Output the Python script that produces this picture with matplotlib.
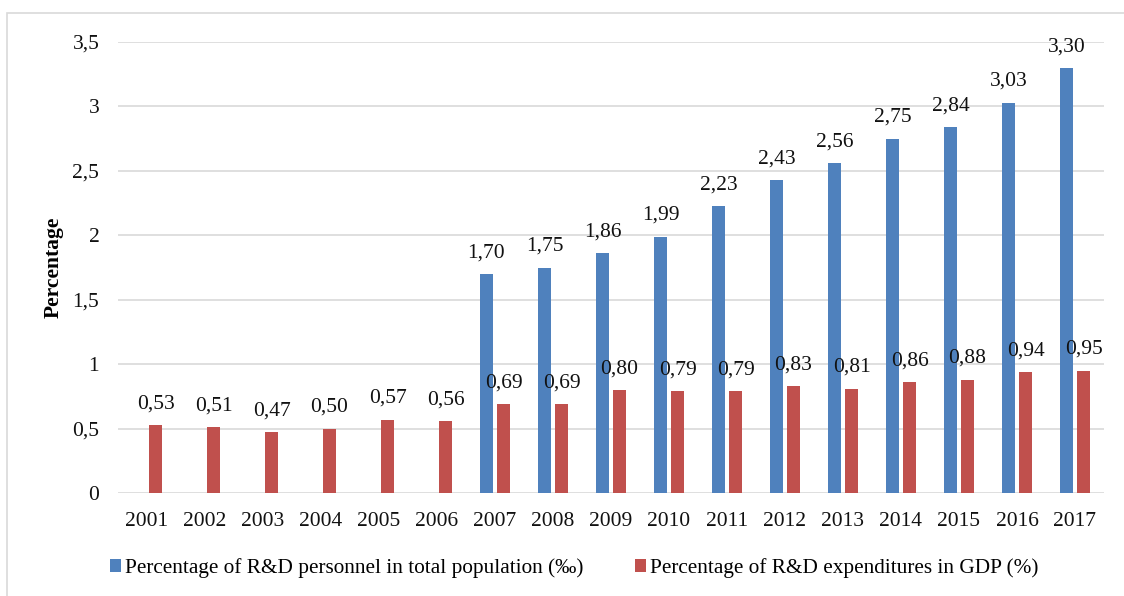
import numpy as np
import matplotlib
matplotlib.use('Agg')
import matplotlib.pyplot as plt
from matplotlib.patches import Rectangle

# Chart data
years = ['2001', '2002', '2003', '2004', '2005', '2006', '2007', '2008', '2009',
         '2010', '2011', '2012', '2013', '2014', '2015', '2016', '2017']
personnel = [None, None, None, None, None, None, 1.70, 1.75, 1.86,
             1.99, 2.23, 2.43, 2.56, 2.75, 2.84, 3.03, 3.30]
expenditures = [0.53, 0.51, 0.47, 0.50, 0.57, 0.56, 0.69, 0.69, 0.80,
                0.79, 0.79, 0.83, 0.81, 0.86, 0.88, 0.94, 0.95]
yticks = [0, 0.5, 1, 1.5, 2, 2.5, 3, 3.5]
ytick_labels = ['0', '0,5', '1', '1,5', '2', '2,5', '3', '3,5']
series_labels = ['Percentage of R&D personnel in total population (‰)',
                 'Percentage of R&D expenditures in GDP (%)']

plt.rcParams['font.family'] = ['Liberation Serif', 'DejaVu Serif']

blue = '#4F81BD'
red = '#C0504D'

fig = plt.figure(figsize=(11.24, 5.96), dpi=100)
W, H = 1124, 596
ax = fig.add_axes([118 / W, 1 - 493 / H, (1104 - 118) / W, (493 - 42) / H])

x = np.arange(len(years))
offset = 0.147
width = 0.22

pers_vals = np.array([np.nan if v is None else v for v in personnel])
exp_vals = np.array(expenditures)

b1 = ax.bar(x - offset, pers_vals, width, color=blue, label=series_labels[0], zorder=3)
b2 = ax.bar(x + offset, exp_vals, width, color=red, label=series_labels[1], zorder=3)

# value labels above each bar, decimal comma
for xi, v in zip(x, pers_vals):
    if not np.isnan(v):
        ax.text(xi - offset, v + 0.09, f'{v:.2f}'.replace('.', ','), ha='center',
                va='bottom', fontsize=15.5, color='#111111')
for xi, v in zip(x, exp_vals):
    ax.text(xi + offset, v + 0.09, f'{v:.2f}'.replace('.', ','), ha='center',
            va='bottom', fontsize=15.5, color='#111111')

ax.set_xlim(-0.5, len(years) - 0.5)
ax.set_ylim(0, 3.5)
ax.set_yticks(yticks)
ax.set_yticklabels(ytick_labels)
ax.set_xticks(x)
ax.set_xticklabels(years)
ax.tick_params(axis='both', length=0, labelsize=15.5, colors='#111111')
ax.tick_params(axis='y', pad=13.5)
ax.tick_params(axis='x', pad=14)
ax.grid(axis='y', color='#D9D9D9', linewidth=1.2, zorder=0)
for s in ax.spines.values():
    s.set_visible(False)

ax.set_ylabel('Percentage', fontsize=15.5, fontweight='bold')
ax.yaxis.set_label_coords((64 - 118) / 986, 0.5)

fig.legend(handles=[b1, b2], labels=series_labels, loc='center',
           bbox_to_anchor=(574 / W, 1 - 568 / H), ncol=2, frameon=False,
           fontsize=15.3, handlelength=0.52, handleheight=0.52, handletextpad=0.2,
           columnspacing=2.4)

# light border of the chart area
fig.patches.append(Rectangle((7 / W, -0.1), 1.2, 1 - 13 / H + 0.1,
                             transform=fig.transFigure, fill=False,
                             edgecolor='#D9D9D9', linewidth=1.2))

fig.savefig('out.png', dpi=100)
